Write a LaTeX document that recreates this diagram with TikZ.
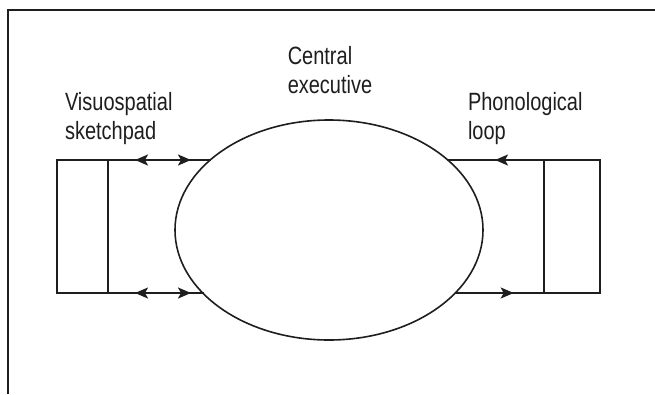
\documentclass[tikz,border=0pt]{standalone}
\usepackage{fontspec}
\newfontfamily\lab{Liberation Sans}[FakeStretch=0.8]
\usetikzlibrary{shapes.geometric,arrows.meta,decorations.markings}
\definecolor{ink}{HTML}{1E1E1E}
\newcommand{\tipfwd}{\arrow{Stealth[length=13pt,width=11pt,inset=3pt]}}
\newcommand{\tiprev}{\arrow{Stealth[length=13pt,width=11pt,inset=3pt,reversed]}}
\begin{document}
\begin{tikzpicture}[x=1pt,y=-1pt,
  every node/.style={inner sep=0pt,outer sep=0pt},
  lbl/.style={font=\lab\fontsize{25}{29}\selectfont,text=ink,align=left},
  store/.style={draw=ink,line width=2pt,minimum width=51pt,minimum height=133pt},
  ceshape/.style={ellipse,draw=ink,line width=1.6pt,minimum width=308pt,minimum height=220pt},
  link/.style={draw=ink,line width=2pt,line cap=rect},
  bidir/.style={postaction={decorate},decoration={markings,
     mark=at position 40pt with {\tiprev},
     mark=at position 83pt with {\tipfwd}}},
  revat/.style={postaction={decorate},decoration={markings,mark=at position #1 with {\tiprev}}},
  fwdat/.style={postaction={decorate},decoration={markings,mark=at position #1 with {\tipfwd}}},
  frame/.style={draw=ink,line width=2pt}
]
\useasboundingbox (0,0) rectangle (655,394);
\draw[frame] (8,394) -- (8,10) -- (655,10);

\node[ceshape] (ce) at (329,230) {};
\node[store] (vs) at (82.5,226.5) {};
\node[store,minimum width=56pt] (ph) at (572,226.5) {};

\coordinate (ceNW) at (210,160);
\coordinate (ceSW) at (202.7,293);
\coordinate (ceNE) at (448,160);
\coordinate (ceSE) at (455.7,293);

\draw[link,bidir] (vs.north east) -- (ceNW);
\draw[link,bidir] (vs.south east) -- (ceSW);
\draw[link,revat=60pt] (ceNE) -- (ph.north west);
\draw[link,fwdat=58pt] (ceSE) -- (ph.south west);

\node[lbl,anchor=base] (cel) at (330,93) {Central\\executive};
\node[lbl,anchor=base west] (vsl) at (65,139) {Visuospatial\\sketchpad};
\node[lbl,anchor=base west] (phl) at (468,139) {Phonological\\loop};
\end{tikzpicture}
\end{document}
